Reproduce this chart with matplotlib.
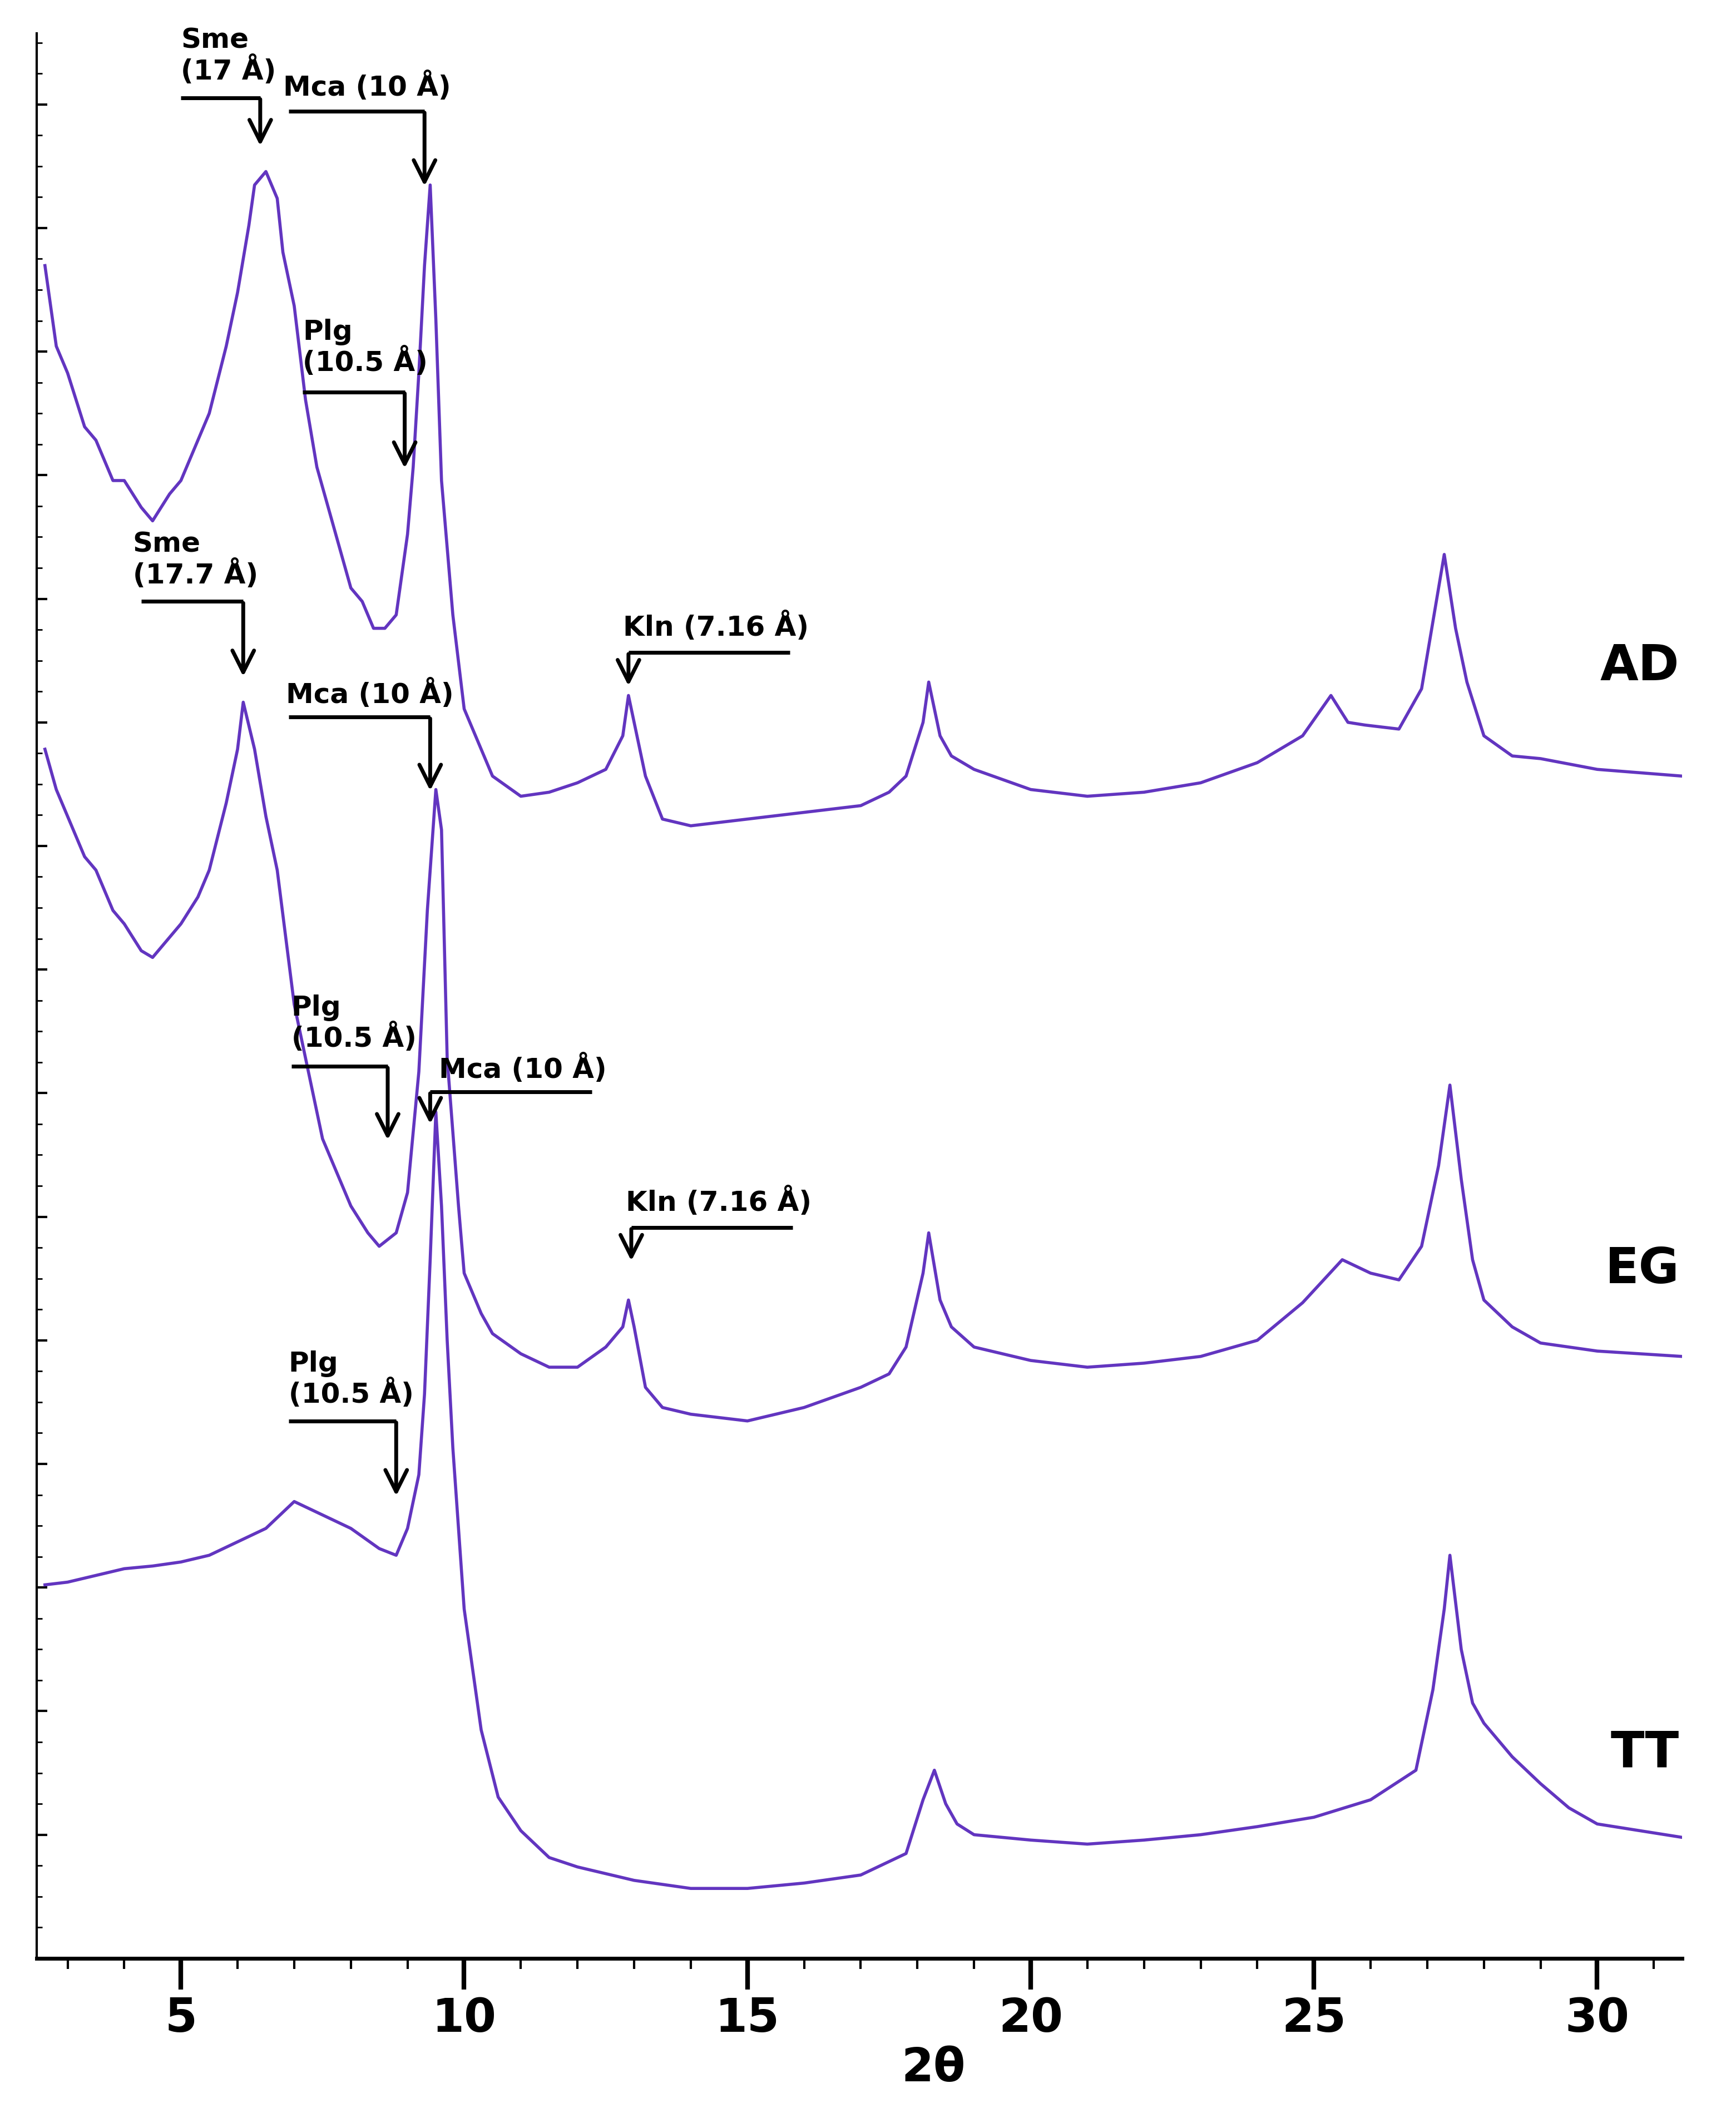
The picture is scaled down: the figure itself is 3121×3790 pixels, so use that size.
import numpy as np
import matplotlib.pyplot as plt

# intensity in arbitrary units, 2theta in degrees
ad_x = [2.6, 2.8, 3.0, 3.3, 3.5, 3.8, 4.0, 4.3, 4.5, 4.8, 5.0, 5.3, 5.5, 5.8, 6.0, 6.2, 6.3, 6.5, 6.7,
        6.8, 7.0, 7.2, 7.4, 7.6, 7.8, 8.0, 8.2, 8.4, 8.6, 8.8, 9.0, 9.1, 9.2, 9.3, 9.4, 9.5, 9.6, 9.8,
        10.0, 10.3, 10.5, 11.0, 11.5, 12.0, 12.5, 12.8, 12.9, 13.0, 13.2, 13.5, 14.0, 15.0, 16.0, 17.0,
        17.5, 17.8, 18.1, 18.2, 18.4, 18.6, 19.0, 20.0, 21.0, 22.0, 23.0, 24.0, 24.8, 25.3, 25.6, 25.9,
        26.5, 26.9, 27.1, 27.3, 27.5, 27.7, 28.0, 28.5, 29.0, 30.0, 31.5]
ad_y = [1260, 1200, 1180, 1140, 1130, 1100, 1100, 1080, 1070, 1090, 1100, 1130, 1150, 1200, 1240, 1290,
        1320, 1330, 1310, 1270, 1230, 1160, 1110, 1080, 1050, 1020, 1010, 990, 990, 1000, 1060, 1110,
        1180, 1260, 1320, 1220, 1100, 1000, 930, 900, 880, 865, 868, 875, 885, 910, 940, 920, 880, 848,
        843, 848, 853, 858, 868, 880, 920, 950, 910, 895, 885, 870, 865, 868, 875, 890, 910, 940, 920,
        918, 915, 945, 995, 1045, 990, 950, 910, 895, 893, 885, 880]
eg_x = [2.6, 2.8, 3.0, 3.3, 3.5, 3.8, 4.0, 4.3, 4.5, 4.8, 5.0, 5.3, 5.5, 5.8, 6.0, 6.1, 6.3, 6.5, 6.7,
        7.0, 7.3, 7.5, 7.8, 8.0, 8.3, 8.5, 8.8, 9.0, 9.2, 9.35, 9.5, 9.6, 9.7, 9.9, 10.0, 10.3, 10.5,
        11.0, 11.5, 12.0, 12.5, 12.8, 12.9, 13.0, 13.2, 13.5, 14.0, 15.0, 16.0, 17.0, 17.5, 17.8, 18.1,
        18.2, 18.4, 18.6, 19.0, 20.0, 21.0, 22.0, 23.0, 24.0, 24.8, 25.5, 26.0, 26.5, 26.9, 27.2, 27.4,
        27.6, 27.8, 28.0, 28.5, 29.0, 30.0, 31.5]
eg_y = [900, 870, 850, 820, 810, 780, 770, 750, 745, 760, 770, 790, 810, 860, 900, 935, 900, 850, 810,
        710, 650, 610, 580, 560, 540, 530, 540, 570, 660, 780, 870, 840, 670, 560, 510, 480, 465, 450,
        440, 440, 455, 470, 490, 470, 425, 410, 405, 400, 410, 425, 435, 455, 510, 540, 490, 470, 455,
        445, 440, 443, 448, 460, 488, 520, 510, 505, 530, 590, 650, 580, 520, 490, 470, 458, 452, 448]
tt_x = [2.6, 3.0, 3.5, 4.0, 4.5, 5.0, 5.5, 6.0, 6.5, 7.0, 7.5, 8.0, 8.5, 8.8, 9.0, 9.2, 9.3, 9.4, 9.5,
        9.6, 9.7, 9.8, 10.0, 10.3, 10.6, 11.0, 11.5, 12.0, 13.0, 14.0, 15.0, 16.0, 17.0, 17.8, 18.1,
        18.3, 18.5, 18.7, 19.0, 20.0, 21.0, 22.0, 23.0, 24.0, 25.0, 26.0, 26.8, 27.1, 27.3, 27.4, 27.6,
        27.8, 28.0, 28.5, 29.0, 29.5, 30.0, 31.5]
tt_y = [278, 280, 285, 290, 292, 295, 300, 310, 320, 340, 330, 320, 305, 300, 320, 360, 420, 520, 630,
        560, 460, 380, 260, 170, 120, 95, 75, 68, 58, 52, 52, 56, 62, 78, 118, 140, 115, 100, 92, 88,
        85, 88, 92, 98, 105, 118, 140, 200, 260, 300, 230, 190, 175, 150, 130, 112, 100, 90]

labels = [("AD", 31.45, 962), ("EG", 31.45, 513), ("TT", 31.45, 153)]

# text, text x, text y (top), line y, line x start, arrow x, arrow tip y
notes = [("Sme\n(17 Å)", 5.0, 1438, 1385, 5.0, 6.4, 1348),
         ("Mca (10 Å)", 6.8, 1405, 1375, 6.9, 9.3, 1318),
         ("Plg\n(10.5 Å)", 7.15, 1221, 1166, 7.15, 8.95, 1108),
         ("Kln (7.16 Å)", 12.8, 1003, 972, 15.75, 12.9, 946),
         ("Sme\n(17.7 Å)", 4.15, 1063, 1010, 4.3, 6.1, 953),
         ("Mca (10 Å)", 6.85, 953, 924, 6.9, 9.4, 868),
         ("Plg\n(10.5 Å)", 6.95, 718, 664, 6.95, 8.65, 608),
         ("Mca (10 Å)", 9.55, 674, 645, 12.25, 9.4, 620),
         ("Kln (7.16 Å)", 12.85, 575, 544, 15.8, 12.95, 518),
         ("Plg\n(10.5 Å)", 6.9, 453, 400, 6.9, 8.8, 343)]

purple = '#6235c0'
fig = plt.figure(figsize=(31.21, 37.91), dpi=100)
ax = fig.add_axes([0.021, 0.071, 0.948, 0.913])
for xs, ys in [(ad_x, ad_y), (eg_x, eg_y), (tt_x, tt_y)]:
    ax.plot(xs, ys, color=purple, lw=4)

for name, x, y in labels:
    ax.text(x, y, name, fontsize=64, fontweight='bold', ha='right', va='center')

for txt, tx, ty, ly, lx, axx, tip in notes:
    ax.text(tx, ty, txt, fontsize=36, fontweight='bold', ha='left', va='top', linespacing=1.05)
    ax.plot([lx, axx], [ly, ly], color='black', lw=5, solid_capstyle='butt')
    ax.annotate('', xy=(axx, tip), xytext=(axx, ly),
                arrowprops=dict(arrowstyle='->', lw=5, color='black', mutation_scale=70))

ax.set_xlim(2.45, 31.5)
ax.set_ylim(0, 1433)
ax.spines['top'].set_visible(False)
ax.spines['right'].set_visible(False)
ax.spines['left'].set_linewidth(3)
ax.spines['bottom'].set_linewidth(5)
ax.set_xticks([5, 10, 15, 20, 25, 30])
ax.set_xticks(np.arange(3, 32, 1), minor=True)
ax.set_yticks(np.arange(0, 1433, 92))
ax.set_yticks(np.arange(0, 1433, 23), minor=True)
ax.set_yticklabels([])
ax.tick_params(axis='x', which='major', direction='out', length=40, width=6, labelsize=60, pad=8)
ax.tick_params(axis='x', which='minor', direction='out', length=14, width=3)
ax.tick_params(axis='y', which='major', direction='in', length=14, width=3)
ax.tick_params(axis='y', which='minor', direction='in', length=7, width=2)
for lab in ax.get_xticklabels():
    lab.set_fontweight('bold')
ax.set_xlabel('2θ', fontsize=60, fontweight='bold', labelpad=0)
ax.xaxis.set_label_coords(0.545, -0.045)

fig.savefig('out.png', dpi=100)
